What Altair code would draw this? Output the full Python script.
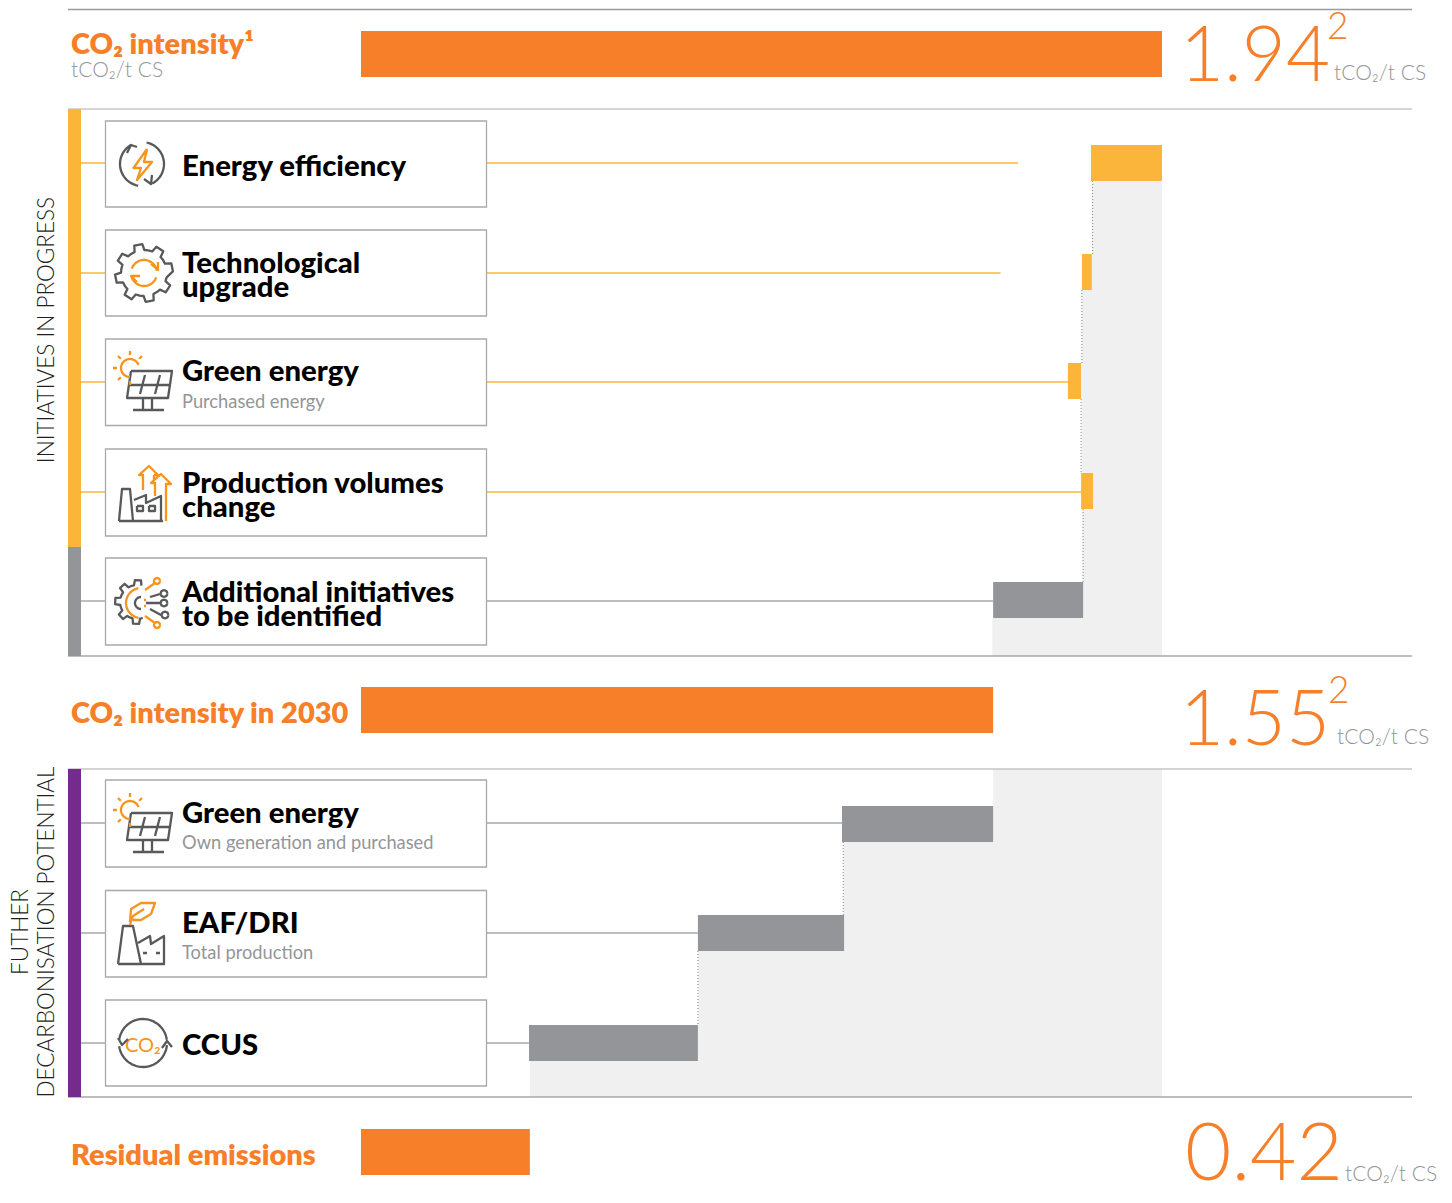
import math
import altair as alt
import pandas as pd

# ---- values (tCO2/t CS) ----
totals = ["CO2 intensity", "CO2 intensity in 2030", "Residual emissions"]
total_vals = [1.94, 1.531, 0.409]
steps = ["Energy efficiency", "Technological upgrade", "Green energy (purchased)", "Production volumes change",
         "Additional initiatives", "Green energy (own)", "EAF/DRI", "CCUS"]
step_lo = [1.768, 1.746, 1.712, 1.744, 1.531, 1.165, 0.816, 0.407]
step_hi = [1.940, 1.770, 1.744, 1.773, 1.749, 1.531, 1.170, 0.816]

# ---- layout (reference pixels) ----
K = 801 / 1.94
def val(px):
    return (px - 361) / K

W, H = 1436, 1187
Y0 = 9
xs = alt.Scale(domain=[val(8), val(8 + W)], range=[0, W], nice=False, zero=False, padding=0)
ys = alt.Scale(domain=[Y0, Y0 + H], range=[0, H], nice=False, zero=False, padding=0)
X = lambda f="x": alt.X(f"{f}:Q", scale=xs, axis=None)
Y = lambda f="y": alt.Y(f"{f}:Q", scale=ys, axis=None)

ORANGE = "#f77f29"; AMBER = "#fcb53b"; GREY = "#939598"; PURPLE = "#732c8b"
FILL = "#f0f0f0"; BOX = "#a7a9ac"; ICON_G = "#58595b"; ICON_O = "#f7941d"
INK = "#000000"; SUB = "#939598"

total_y = [54, 710, 1152]
step_y = [163, 272, 381, 491, 600, 824, 933, 1043]
step_color = [AMBER] * 4 + [GREY] * 4
box_top = [121, 230, 339, 449, 558, 780, 890.5, 1000]
box_bot = [207, 316, 425.5, 536, 645, 867, 977, 1086]
line_y = [163, 273, 382, 492, 601, 823, 933, 1043]
line_end = [val(1018), val(1000.5), 1.712, 1.744, 1.531, 1.165, 0.816, 0.407]
line_color = [AMBER] * 4 + [BOX] * 4

layers = []

# stepped background
bg = pd.DataFrame({
    "x": [1.770, 1.745, 1.747, 1.529, 1.531, 1.168, 0.816, 0.409],
    "y": [181, 290, 509, 618, 769, 842, 951, 1061],
    "y2": [290, 509, 618, 656, 842, 951, 1061, 1097],
})
bg["x2"] = 1.94
layers.append(alt.Chart(bg).mark_rect(color=FILL).encode(x=X(), x2="x2", y=Y(), y2="y2"))

# horizontal rules
rules = pd.DataFrame({"y": [9.5, 109, 656, 769, 1097], "c": ["#9a9ba0", "#c8c8c8", "#a8a8a8", "#c4c4c4", "#a8a8a8"]})
rules["x"] = val(68); rules["x2"] = val(1412)
layers.append(alt.Chart(rules).mark_rule(strokeWidth=1.5).encode(x=X(), x2="x2", y=Y(), color=alt.Color("c:N", scale=None)))

# section bars
sec = pd.DataFrame({"y": [109, 547, 769], "y2": [547, 656, 1097], "c": [AMBER, GREY, PURPLE]})
sec["x"] = val(68); sec["x2"] = val(81)
layers.append(alt.Chart(sec).mark_rect().encode(x=X(), x2="x2", y=Y(), y2="y2", color=alt.Color("c:N", scale=None)))

# connector lines
lines = pd.DataFrame({"y": line_y, "x": line_end, "c": line_color})
lines["x2"] = val(81)
layers.append(alt.Chart(lines).mark_rule(strokeWidth=1.3).encode(x=X(), x2="x2", y=Y(), color=alt.Color("c:N", scale=None)))

# dotted links between the steps
dots = pd.DataFrame({
    "x": [1.772, 1.746, 1.744, 1.749, 1.168, 0.816],
    "y": [181, 290, 399, 509, 842, 951],
    "y2": [254, 363, 473, 582, 915, 1025],
})
layers.append(alt.Chart(dots).mark_rule(color="#8a8a8a", strokeWidth=1, strokeDash=[1, 2]).encode(x=X(), y=Y(), y2="y2"))

# boxes
boxes = pd.DataFrame({"y": box_top, "y2": box_bot})
boxes["x"] = val(105.5); boxes["x2"] = val(486.5)
layers.append(alt.Chart(boxes).mark_rect(fill="#ffffff", stroke=BOX, strokeWidth=1.3).encode(x=X(), x2="x2", y=Y(), y2="y2"))

# bars
tb = pd.DataFrame({"name": totals, "x": 0.0, "x2": total_vals, "y": total_y})
layers.append(alt.Chart(tb).mark_bar(height=46, color=ORANGE).encode(x=X(), x2="x2", y=Y()))
sb = pd.DataFrame({"name": steps, "x": step_lo, "x2": step_hi, "y": step_y, "c": step_color})
layers.append(alt.Chart(sb).mark_bar(height=36).encode(x=X(), x2="x2", y=Y(), color=alt.Color("c:N", scale=None)))

# ---- text: (text, left px, baseline px) grouped per style ----
F = "Lato"
styles = [
    (dict(fontSize=29.3, fontWeight=900, color=INK, font=F), [
        ("Energy efficiency", 182, 176), ("Technological", 182, 273), ("upgrade", 182, 297),
        ("Green energy", 182, 381), ("Production volumes", 182, 493), ("change", 182, 517),
        ("Additional initiatives", 182, 602), ("to be identified", 182, 626),
        ("Green energy", 182, 823), ("EAF/DRI", 182, 933), ("CCUS", 182, 1055)]),
    (dict(fontSize=18.3, fontWeight=400, color=SUB, font=F), [
        ("Purchased energy", 182, 408), ("Own generation and purchased", 182, 849), ("Total production", 182, 959)]),
    (dict(fontSize=29, fontWeight=800, color=ORANGE, font=F), [
        ("CO₂ intensity¹", 71, 54), ("CO₂ intensity in 2030", 71, 723), ("Residual emissions", 71, 1165)]),
    (dict(fontSize=21, fontWeight=300, color=SUB, font=F), [
        ("tCO₂/t CS", 71, 77), ("tCO₂/t CS", 1334, 80), ("tCO₂/t CS", 1337, 744), ("tCO₂/t CS", 1345, 1181)]),
    (dict(fontSize=76, fontWeight=300, color=ORANGE, font=F), [
        ("1.94", 1180, 81), ("1.55", 1180, 745)]),
    (dict(fontSize=80, fontWeight=300, color=ORANGE, font=F), [
        ("0.42", 1185, 1180)]),
    (dict(fontSize=37, fontWeight=300, color=ORANGE, font=F), [
        ("2", 1327, 39), ("2", 1328, 703)]),
    (dict(fontSize=20, fontWeight=400, color=ICON_O, font=F), [("CO₂", 125, 1052)]),
]
for st, rows in styles:
    d = pd.DataFrame(rows, columns=["t", "px", "y"])
    d["x"] = d["px"].map(val)
    layers.append(alt.Chart(d).mark_text(align="left", baseline="alphabetic", **st).encode(x=X(), y=Y(), text="t:N"))

rot = pd.DataFrame([("INITIATIVES IN PROGRESS", 53.5, 330), ("DECARBONISATION POTENTIAL", 53.5, 932), ("FUTHER", 28, 932)],
                   columns=["t", "px", "y"])
rot["x"] = rot["px"].map(val)
layers.append(alt.Chart(rot).mark_text(angle=270, align="center", baseline="alphabetic", fontSize=22.5, font=F,
                                       fontWeight=300, color="#231f20").encode(x=X(), y=Y(), text="t:N"))

# ---- icons, drawn as custom symbols ----
def arc(cx, cy, r, a0, a1, n=28):
    return [(cx + r * math.cos(math.radians(a0 + (a1 - a0) * i / n)),
             cy + r * math.sin(math.radians(a0 + (a1 - a0) * i / n))) for i in range(n + 1)]

def gear(cx, cy, r0, r1, teeth, a0=0, a1=360):
    pts = []
    step = 360 / teeth
    a = a0
    while a < a1 - 1e-6:
        for da, r in [(0, r0), (step * .22, r0), (step * .32, r1), (step * .68, r1), (step * .78, r0), (step, r0)]:
            if a + da <= a1 + 1e-6:
                pts.append((cx + r * math.cos(math.radians(a + da)), cy + r * math.sin(math.radians(a + da))))
        a += step
    return pts

def solar(dy):
    sun = [arc(130, 368 + dy, 9, 90, 340)]
    for ang in [90, 135, 180, 225, 270, 315]:
        a = math.radians(ang)
        sun.append([(130 + 13 * math.cos(a), 368 + dy + 13 * math.sin(a)), (130 + 17 * math.cos(a), 368 + dy + 17 * math.sin(a))])
    panel = [[(131, 371 + dy), (172, 371 + dy), (168, 398 + dy), (127, 398 + dy), (131, 371 + dy)],
             [(129.5, 385 + dy), (170, 385 + dy)],
             [(145, 375 + dy), (140, 394 + dy)], [(160, 375 + dy), (155, 394 + dy)],
             [(143, 398 + dy), (143, 410 + dy)], [(152, 398 + dy), (152, 410 + dy)],
             [(133, 410 + dy), (164, 410 + dy)]]
    return panel, sun

sol1 = solar(0)
sol2 = solar(442)
g_full = gear(144, 273, 23, 29, 8, 11)

icons = [
    # energy efficiency
    ((142, 164),
     [arc(142, 164, 22, -78, 62), [(144, 179), (151, 184), (152, 175)],
      arc(142, 164, 22, 100, 240), [(127, 153), (131, 145), (137, 147)]],
     [[(147, 149), (133.5, 168), (141, 168), (137, 180), (152, 162), (144, 162), (147, 149)]]),
    # technological upgrade
    ((144, 273),
     [g_full + [g_full[0]]],
     [arc(144, 273, 13, -160, -10), [(151, 264), (158, 270), (158, 262)],
      arc(144, 273, 13, 20, 170), [(137, 282), (131, 276), (140, 276)]]),
    # green energy
    ((150, 384), sol1[0], sol1[1]),
    # production volumes
    ((145, 494),
     [[(119, 521), (122, 489), (130, 489), (133, 521)], [(119, 521), (163, 521)],
      [(134, 500), (146, 495), (146, 503), (161, 496), (161, 521)],
      [(137, 506), (143, 506), (143, 511), (137, 511), (137, 506)],
      [(149, 506), (155, 506), (155, 511), (149, 511), (149, 506)]],
     [[(143, 490), (143, 475), (139, 475), (149, 466), (158, 475), (154, 475)],
      [(155, 496), (155, 483), (151, 483), (161, 474), (171, 484), (166, 484), (166, 521)],
      [(154, 475), (154, 480)]]),
    # additional initiatives
    ((142, 603),
     [gear(137, 602, 17, 22, 8, 70, 290), [(146, 603), (160, 603)], [(150, 597), (160, 594)], [(150, 609), (161, 615)],
      arc(164, 593.5, 3.3, 0, 360), arc(164, 603, 3.3, 0, 360), arc(165, 615, 3.3, 0, 360),
      arc(141, 603, 6, 90, 270)],
     [arc(141, 603, 15, 100, 260), [(145, 590), (155, 583)], arc(157, 581, 3, 0, 360),
      [(145, 616), (155, 623)], arc(157, 625, 3, 0, 360), [(144, 600), (146, 600)], [(144, 606), (146, 606)]]),
    # green energy (own)
    ((150, 826), sol2[0], sol2[1]),
    # EAF/DRI
    ((142, 935),
     [[(118, 964), (123, 926), (133, 926), (141, 964)], [(118, 964), (165, 964)],
      [(138, 943), (150, 936), (151, 944), (164, 936), (164, 964)],
      [(143, 953), (147, 953)], [(156, 953), (160, 953)]],
     [[(130, 922), (131, 909), (141, 903), (155, 903), (151, 914), (141, 920), (133, 920)],
      [(130, 925), (133, 916), (144, 909)]]),
    # CCUS
    ((143, 1043),
     [arc(143, 1043, 24, -175, -8), [(118, 1038), (122, 1045), (128, 1039)],
      arc(143, 1043, 24, 5, 172), [(162, 1048), (167, 1041), (172, 1047)]],
     []),
]

def to_path(polys, c):
    out = []
    for poly in polys:
        out.append("M" + "L".join(f"{p[0]-c[0]:.1f},{p[1]-c[1]:.1f}" for p in poly))
    return "".join(out)

anchor = pd.DataFrame({"k": [0]})
for c, grey_parts, orange_parts in icons:
    for parts, col, sw in [(grey_parts, ICON_G, 2.3), (orange_parts, ICON_O, 2.3)]:
        if parts:
            layers.append(alt.Chart(anchor).mark_point(shape=to_path(parts, c), size=4, filled=False, opacity=1,
                                                       stroke=col, strokeWidth=sw, strokeJoin="round").encode(
                x=alt.value(c[0] - 8), y=alt.value(c[1] - Y0)))

chart = alt.layer(*layers).properties(width=W, height=H, padding=0).configure_view(stroke=None)
chart.save("out.html", embed_options={"renderer": "svg", "actions": False})
